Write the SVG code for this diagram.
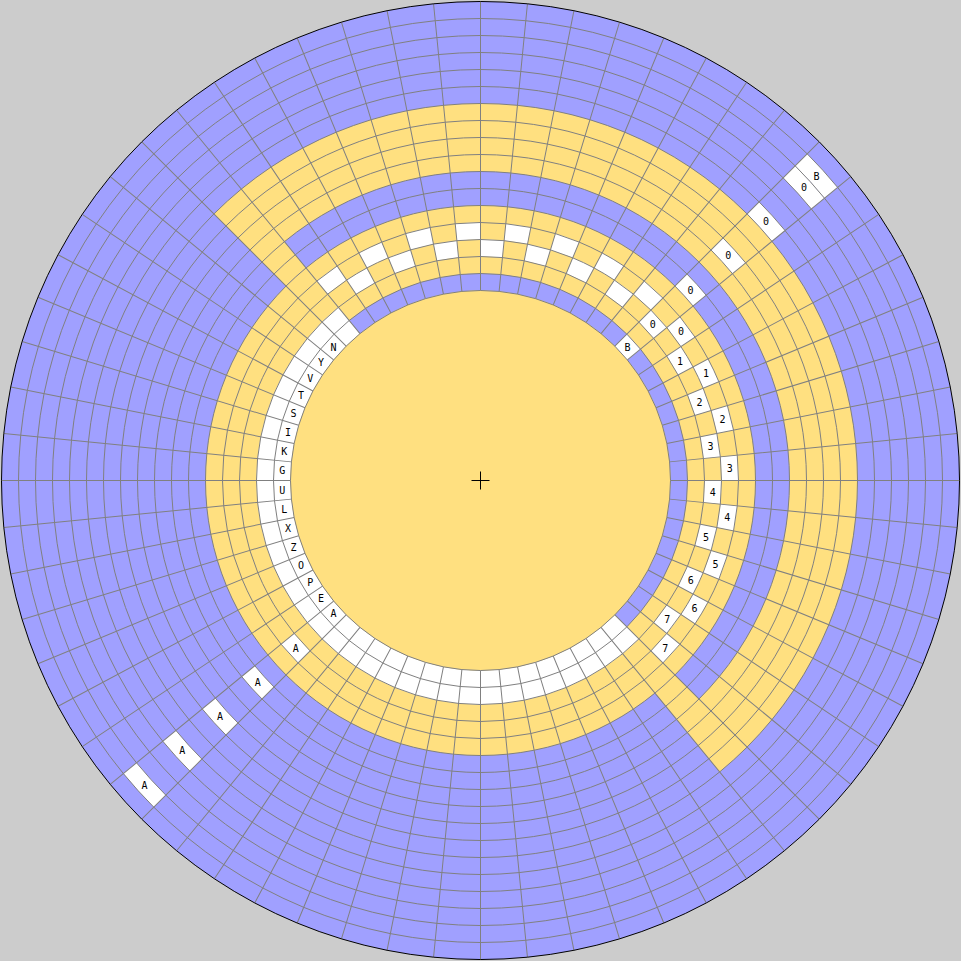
<svg xmlns="http://www.w3.org/2000/svg" width="961" height="961" viewBox="0 0 961 961">
<style>
.b{fill:#a0a0ff}
.y{fill:#ffe080}
.w{fill:#ffffff}
.g{fill:none;stroke:#808080;stroke-width:1}
.t{font-family:"DejaVu Sans Mono","Liberation Mono",monospace;font-size:10px;text-anchor:middle;fill:#000000}
</style>
<defs>
<path id="c0" d="M190,0L207,0A207,207 0 0 1 206.003,20.290L189.085,18.623A190,190 0 0 0 190,0Z"/>
<path id="c2" d="M224,0L241,0A241,241 0 0 1 239.840,23.622L222.921,21.956A224,224 0 0 0 224,0Z"/>
<path id="c3" d="M241,0L258,0A258,258 0 0 1 256.758,25.288L239.840,23.622A241,241 0 0 0 241,0Z"/>
<path id="c5" d="M275,0L292,0A292,292 0 0 1 290.594,28.621L273.676,26.955A275,275 0 0 0 275,0Z"/>
<path id="c6" d="M292,0L309,0A309,309 0 0 1 307.512,30.287L290.594,28.621A292,292 0 0 0 292,0Z"/>
<path id="c8" d="M326,0L343,0A343,343 0 0 1 341.348,33.620L324.430,31.954A326,326 0 0 0 326,0Z"/>
<path id="c9" d="M343,0L360,0A360,360 0 0 1 358.267,35.286L341.348,33.620A343,343 0 0 0 343,0Z"/>
<path id="c11" d="M377,0L394,0A394,394 0 0 1 392.103,38.619L375.185,36.952A377,377 0 0 0 377,0Z"/>
<path id="c12" d="M394,0L411,0A411,411 0 0 1 409.021,40.285L392.103,38.619A394,394 0 0 0 394,0Z"/>
<path id="c14" d="M428,0L445,0A445,445 0 0 1 442.857,43.618L425.939,41.951A428,428 0 0 0 428,0Z"/>
<path id="c15" d="M445,0L462,0A462,462 0 0 1 459.775,45.284L442.857,43.618A445,445 0 0 0 445,0Z"/>
<path id="sp" d="M190,0H479M-190,0H-479"/>
</defs>
<rect id="background" width="961" height="961" fill="#cccccc"/>
<g transform="translate(480.5,480.5)">
<g id="bands">
<circle r="479" class="b"/>
<path class="y" d="M-266.579,-266.579A377,377 0 1 1 239.166,291.425L174.458,212.578A275,275 0 1 0 -194.454,-194.454Z"/>
<path class="b" d="M-196.027,-238.860A309,309 0 0 1 218.496,218.496L194.454,194.454A275,275 0 0 0 -174.458,-212.578Z"/>
<circle r="275" class="y"/>
<path class="w" d="M158.392,158.392A224,224 0 1 1 -142.104,-173.154L-120.535,-146.872A190,190 0 1 0 134.350,134.350Z"/>
<path class="b" d="M-131.319,-160.013A207,207 0 0 1 146.371,146.371L134.350,134.350A190,190 0 0 0 -120.535,-146.872Z"/>
<circle r="190" class="y"/>
</g>
<g id="cells" class="w">
<use href="#c2" transform="rotate(236.25)"/>
<use href="#c2" transform="rotate(247.5)"/>
<use href="#c2" transform="rotate(258.75)"/>
<use href="#c2" transform="rotate(270)"/>
<use href="#c2" transform="rotate(281.25)"/>
<use href="#c2" transform="rotate(292.5)"/>
<use href="#c2" transform="rotate(303.75)"/>
<use href="#c2" transform="rotate(315)"/>
<use href="#c2" transform="rotate(326.25)"/>
<use href="#c2" transform="rotate(337.5)"/>
<use href="#c2" transform="rotate(348.75)"/>
<use href="#c2" transform="rotate(0)"/>
<use href="#c2" transform="rotate(11.25)"/>
<use href="#c2" transform="rotate(22.5)"/>
<use href="#c2" transform="rotate(33.75)"/>
<use href="#c3" transform="rotate(230.625)"/>
<use href="#c3" transform="rotate(241.875)"/>
<use href="#c3" transform="rotate(253.125)"/>
<use href="#c3" transform="rotate(264.375)"/>
<use href="#c3" transform="rotate(275.625)"/>
<use href="#c3" transform="rotate(286.875)"/>
<use href="#c3" transform="rotate(298.125)"/>
<use href="#c3" transform="rotate(309.375)"/>
<use href="#c3" transform="rotate(320.625)"/>
<use href="#c3" transform="rotate(331.875)"/>
<use href="#c3" transform="rotate(343.125)"/>
<use href="#c3" transform="rotate(354.375)"/>
<use href="#c3" transform="rotate(5.625)"/>
<use href="#c3" transform="rotate(16.875)"/>
<use href="#c3" transform="rotate(28.125)"/>
<use href="#c3" transform="rotate(39.375)"/>
<use href="#c0" transform="rotate(315)"/>
<use href="#c5" transform="rotate(315)"/>
<use href="#c8" transform="rotate(315)"/>
<use href="#c11" transform="rotate(315)"/>
<use href="#c14" transform="rotate(315)"/>
<use href="#c15" transform="rotate(315)"/>
<use href="#c3" transform="rotate(135)"/>
<use href="#c6" transform="rotate(135)"/>
<use href="#c9" transform="rotate(135)"/>
<use href="#c12" transform="rotate(135)"/>
<use href="#c15" transform="rotate(135)"/>
</g>
<g id="grid" class="g">
<circle r="190"/><circle r="207"/><circle r="224"/><circle r="241"/><circle r="258"/><circle r="275"/>
<circle r="292"/><circle r="309"/><circle r="326"/><circle r="343"/><circle r="360"/><circle r="377"/>
<circle r="394"/><circle r="411"/><circle r="428"/><circle r="445"/><circle r="462"/>
<use href="#sp"/>
<use href="#sp" transform="rotate(5.625)"/>
<use href="#sp" transform="rotate(11.25)"/>
<use href="#sp" transform="rotate(16.875)"/>
<use href="#sp" transform="rotate(22.5)"/>
<use href="#sp" transform="rotate(28.125)"/>
<use href="#sp" transform="rotate(33.75)"/>
<use href="#sp" transform="rotate(39.375)"/>
<use href="#sp" transform="rotate(45)"/>
<use href="#sp" transform="rotate(50.625)"/>
<use href="#sp" transform="rotate(56.25)"/>
<use href="#sp" transform="rotate(61.875)"/>
<use href="#sp" transform="rotate(67.5)"/>
<use href="#sp" transform="rotate(73.125)"/>
<use href="#sp" transform="rotate(78.75)"/>
<use href="#sp" transform="rotate(84.375)"/>
<use href="#sp" transform="rotate(90)"/>
<use href="#sp" transform="rotate(95.625)"/>
<use href="#sp" transform="rotate(101.25)"/>
<use href="#sp" transform="rotate(106.875)"/>
<use href="#sp" transform="rotate(112.5)"/>
<use href="#sp" transform="rotate(118.125)"/>
<use href="#sp" transform="rotate(123.75)"/>
<use href="#sp" transform="rotate(129.375)"/>
<use href="#sp" transform="rotate(135)"/>
<use href="#sp" transform="rotate(140.625)"/>
<use href="#sp" transform="rotate(146.25)"/>
<use href="#sp" transform="rotate(151.875)"/>
<use href="#sp" transform="rotate(157.5)"/>
<use href="#sp" transform="rotate(163.125)"/>
<use href="#sp" transform="rotate(168.75)"/>
<use href="#sp" transform="rotate(174.375)"/>
</g>
<circle id="rim" r="479" fill="none" stroke="#000000" stroke-width="1"/>
<g id="labels" class="t">
<text x="-198.26" y="-6.14">G</text>
<text x="-196.35" y="-25.53">K</text>
<text x="-192.55" y="-44.63">I</text>
<text x="-186.90" y="-63.27">S</text>
<text x="-179.44" y="-81.27">T</text>
<text x="-170.26" y="-98.45">V</text>
<text x="-159.44" y="-114.65">Y</text>
<text x="-147.08" y="-129.70">N</text>
<text x="-198.26" y="13.34">U</text>
<text x="-196.35" y="32.73">L</text>
<text x="-192.55" y="51.83">X</text>
<text x="-186.90" y="70.47">Z</text>
<text x="-179.44" y="88.47">O</text>
<text x="-170.26" y="105.65">P</text>
<text x="-159.44" y="121.85">E</text>
<text x="-147.08" y="136.90">A</text>
<text x="147.08" y="-129.70">B</text>
<text x="172.27" y="-152.54">0</text>
<text x="200.40" y="-145.03">0</text>
<text x="199.42" y="-115.93">1</text>
<text x="225.55" y="-103.08">1</text>
<text x="218.91" y="-74.73">2</text>
<text x="242.02" y="-57.02">2</text>
<text x="229.98" y="-30.52">3</text>
<text x="249.20" y="-8.64">3</text>
<text x="232.22" y="15.01">4</text>
<text x="246.80" y="40.21">4</text>
<text x="225.53" y="60.09">5</text>
<text x="234.92" y="87.65">5</text>
<text x="210.18" y="103.01">6</text>
<text x="214.00" y="131.87">6</text>
<text x="186.75" y="142.10">7</text>
<text x="184.87" y="171.15">7</text>
<text x="210.06" y="-186.79">0</text>
<text x="247.85" y="-221.04">0</text>
<text x="285.64" y="-255.29">0</text>
<text x="323.42" y="-289.54">0</text>
<text x="336.02" y="-300.95">B</text>
<text x="-184.87" y="171.15">A</text>
<text x="-222.66" y="205.40">A</text>
<text x="-260.44" y="239.65">A</text>
<text x="-298.23" y="273.90">A</text>
<text x="-336.02" y="308.15">A</text>
</g>
<path id="center-cross" d="M-9,0H9M0,-9V9" stroke="#000000" stroke-width="1" fill="none"/>
</g>
</svg>
